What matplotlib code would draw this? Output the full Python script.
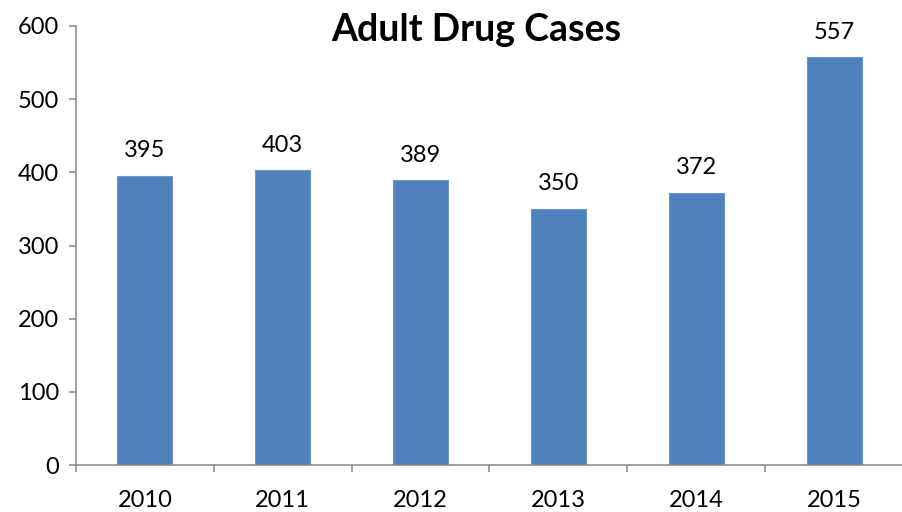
import matplotlib
matplotlib.use("Agg")
import matplotlib.pyplot as plt
import numpy as np

plt.rcParams['font.family'] = ['Lato', 'DejaVu Sans']

# Chart data
years = ["2010", "2011", "2012", "2013", "2014", "2015"]
cases = [395, 403, 389, 350, 372, 557]

fig = plt.figure(figsize=(9.03, 5.12), dpi=100)
ax = fig.add_axes([76/903, 47/512, 1 - 76/903, 439/512])

x = np.arange(len(years))
bars = ax.bar(x, cases, width=0.4, color="#4F81BD", edgecolor="#6F95C9", linewidth=0.8)

for b, v in zip(bars, cases):
    ax.text(b.get_x() + b.get_width()/2, v + 20, str(v),
            ha="center", va="bottom", fontsize=17)

ax.set_ylim(0, 600)
ax.set_yticks(range(0, 601, 100))
ax.set_xlim(-0.5, -0.5 + (903 - 76) / 139.6)

# category labels at centres, tick marks between categories
ax.set_xticks(x)
ax.set_xticklabels(years)
ax.set_xticks(np.arange(-0.5, 6, 1), minor=True)
ax.tick_params(axis="x", which="major", length=0, pad=18, labelsize=17)
ax.tick_params(axis="x", which="minor", length=5, width=1.1, color="#868686")
ax.tick_params(axis="y", length=5, width=1.1, color="#868686", pad=7, labelsize=17)

for s in ["top", "right"]:
    ax.spines[s].set_visible(False)
for s in ["left", "bottom"]:
    ax.spines[s].set_color("#868686")
    ax.spines[s].set_linewidth(1.1)

fig.text(476/903, 1 - 30/512, "Adult Drug Cases", ha="center", va="center",
         fontsize=27, fontweight="bold")

fig.savefig("out.png", dpi=100)
